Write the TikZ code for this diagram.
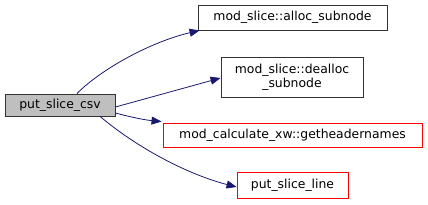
\documentclass[tikz,border=0pt]{standalone}
\usepackage{fontspec}
\setmainfont{DejaVu Sans}
\usetikzlibrary{arrows.meta}
\definecolor{edgeblue}{HTML}{191970}
\definecolor{boxgray}{HTML}{BFBFBF}
\begin{document}
\begin{tikzpicture}[x=1pt,y=-1pt,
  fn/.style={draw=black!80, line width=0.9pt, inner sep=0pt, font=\fontsize{12.4}{14}\selectfont, align=center},
  redfn/.style={fn, draw=red},
  call/.style={draw=edgeblue, line width=0.8pt, -{Triangle[length=10pt,width=8pt]}}]
\useasboundingbox (0,0) rectangle (428,205);
\node[fn, fill=boxgray, minimum width=110, minimum height=22] (csv) at (60,105) {put\_slice\_csv};
\node[fn, minimum width=189, minimum height=25] (alloc) at (292.5,17.5) {mod\_slice::alloc\_subnode};
\node[fn, minimum width=142, minimum height=40] (dealloc) at (292,77) {mod\_slice::dealloc\\\_subnode};
\node[redfn, minimum width=259, minimum height=24] (head) at (292.5,135) {mod\_calculate\_xw::getheadernames};
\node[redfn, minimum width=111, minimum height=26] (line) at (292.5,185) {put\_slice\_line};
\draw[call] ([xshift=17]csv.north) .. controls (100,70) and (150,42) .. ([xshift=2]alloc.south west);
\draw[call] ([yshift=-2]csv.east) -- ([yshift=-1]dealloc.west);
\draw[call] ([yshift=-8]csv.east) .. controls (130,117) and (145,120) .. ([xshift=-1,yshift=1]head.north west);
\draw[call] ([xshift=40]csv.south) .. controls (140,150) and (190,175) .. ([yshift=-2]line.west);
\end{tikzpicture}
\end{document}
